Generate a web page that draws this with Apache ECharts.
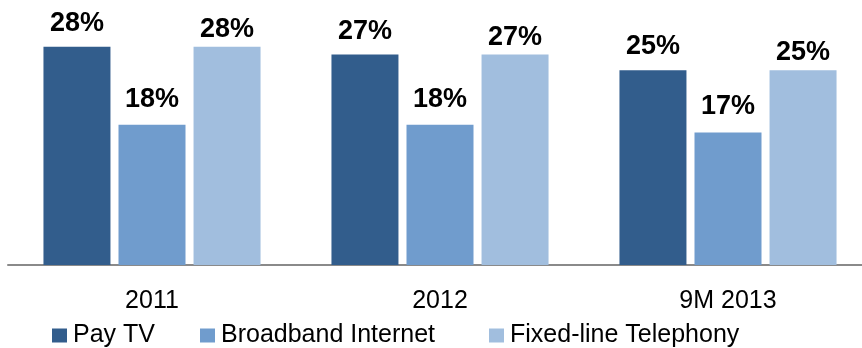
<!DOCTYPE html>
<html>
<head>
<meta charset="utf-8">
<script src="https://cdn.jsdelivr.net/npm/echarts@6/dist/echarts.min.js"></script>
<style>
html,body{margin:0;padding:0;background:#fff;overflow:hidden;width:862px;height:348px;}
#chart{width:872px;height:348px;}
</style>
</head>
<body>
<div id="chart"></div>
<script>
const categories = ['2011', '2012', '9M 2013'];
const seriesNames = ['Pay TV', 'Broadband Internet', 'Fixed-line Telephony'];
const payTV = [28, 27, 25];
const broadband = [18, 18, 17];
const fixedLine = [28, 27, 25];

const colors = ['#325D8C', '#709CCD', '#A1BEDE'];
const labelDist = [10, 12, 4];
const FONT = '"Liberation Sans", Arial, sans-serif';

const values = [payTV, broadband, fixedLine];
const chart = echarts.init(document.getElementById('chart'));

const legendLefts = [52, 200, 489];

chart.setOption({
  animation: false,
  backgroundColor: '#ffffff',
  grid: { left: 8, right: 0, top: 0, bottom: 83, containLabel: false },
  legend: seriesNames.map((n, i) => ({
    data: [n],
    left: legendLefts[i],
    top: 323,
    padding: 0,
    icon: 'rect',
    itemWidth: 15,
    itemHeight: 14,
    itemGap: 6,
    textStyle: { fontFamily: FONT, fontSize: 25, color: '#000', padding: [0, 0, 0, 1] }
  })),
  xAxis: {
    type: 'category',
    data: categories,
    boundaryGap: true,
    axisTick: { show: false },
    axisLine: { lineStyle: { color: '#8a8a8a', width: 2 } },
    axisLabel: { fontFamily: FONT, fontSize: 25, color: '#000', margin: 24 }
  },
  yAxis: {
    type: 'value',
    min: 0,
    max: 34,
    show: false,
    splitLine: { show: false }
  },
  series: seriesNames.map((n, i) => ({
    name: n,
    type: 'bar',
    data: values[i],
    barWidth: 67,
    barGap: '12%',
    itemStyle: { color: colors[i] },
    label: {
      show: true,
      position: 'top',
      distance: labelDist[i],
      formatter: p => p.value + '%',
      fontFamily: FONT,
      fontSize: 27,
      fontWeight: 'bold',
      color: '#000'
    }
  }))
});
</script>
</body>
</html>
